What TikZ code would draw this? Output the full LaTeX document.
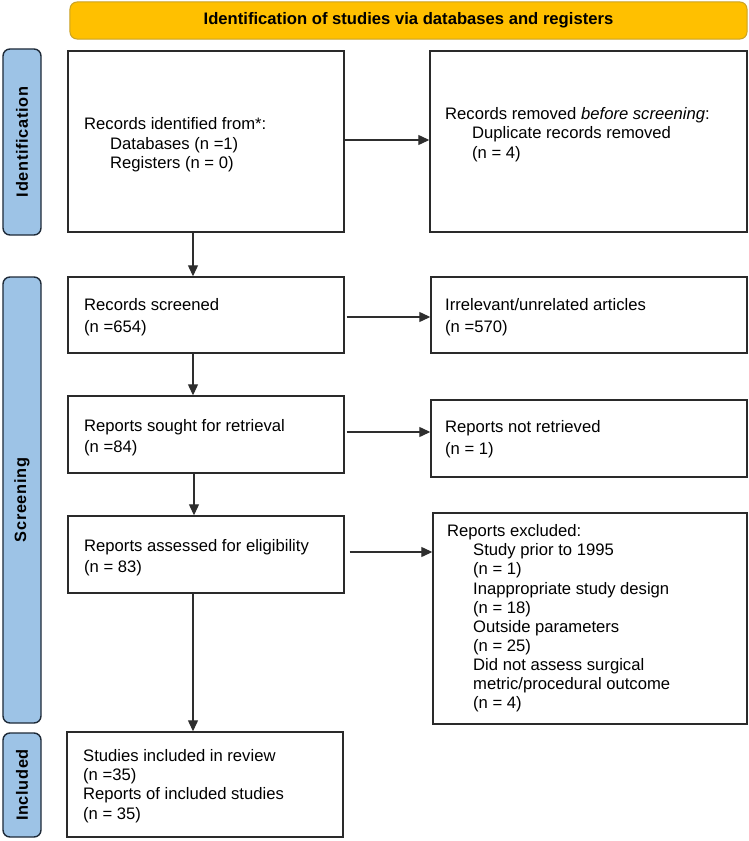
\documentclass[tikz,border=0pt]{standalone}
\usepackage{fontspec}
\setmainfont{Liberation Sans}
\newfontfamily\sidefont[LetterSpace=4]{Liberation Sans}
\usetikzlibrary{arrows.meta}
\definecolor{bannerfill}{HTML}{FFC000}
\definecolor{bannerdraw}{HTML}{C9A227}
\definecolor{sidefill}{HTML}{9DC3E6}
\definecolor{sidedraw}{HTML}{1E2A38}
\definecolor{boxdraw}{HTML}{2A2A2A}
\definecolor{arrowcol}{HTML}{2E2E2E}
\begin{document}
\begin{tikzpicture}[x=1bp,y=-1bp,
  box/.style={draw=boxdraw, line width=1.4bp, inner sep=0pt, fill=white},
  txt/.style={anchor=west, align=left, inner sep=0pt, font=\fontsize{16.7}{19.4}\selectfont},
  txttwo/.style={anchor=west, align=left, inner sep=0pt, font=\fontsize{16.7}{21.5}\selectfont},
  sidebar/.style={draw=sidedraw, line width=1.4bp, fill=sidefill, rounded corners=7bp, inner sep=0pt, minimum width=38bp},
  sidelabel/.style={rotate=90, inner sep=0pt, font=\sidefont\bfseries\fontsize{16.4}{18}\selectfont},
  banner/.style={draw=bannerdraw, line width=1bp, fill=bannerfill, rounded corners=7bp, inner sep=0pt},
  arr/.style={draw=arrowcol, line width=1.2bp, -{Triangle[length=11bp,width=10bp]}}
]
\useasboundingbox (0,0) rectangle (749,841);

% banner
\node[banner, minimum width=677bp, minimum height=37bp] (banner) at (408.5,20.5) {};
\node[inner sep=0pt, font=\bfseries\fontsize{16.7}{19}\selectfont] (bannertxt) at (banner.center) {Identification of studies via databases and registers};

% side bars
\node[sidebar, minimum height=186bp] (sideid) at (22,142) {};
\node[sidelabel] (sideidtxt) at (sideid.center) {Identification};
\node[sidebar, minimum height=446bp] (sidescr) at (22,500) {};
\node[sidelabel] (sidescrtxt) at (sidescr.center) {Screening};
\node[sidebar, minimum height=104bp] (sideinc) at (22,785) {};
\node[sidelabel] (sideinctxt) at (sideinc.center) {Included};

% boxes
\node[box, minimum width=276bp, minimum height=181bp] (b1) at (206,141.5) {};
\node[box, minimum width=317bp, minimum height=181bp] (b2) at (588.5,141.5) {};
\node[box, minimum width=276bp, minimum height=76bp] (scr) at (206,315) {};
\node[box, minimum width=316bp, minimum height=76bp] (irr) at (589,315) {};
\node[box, minimum width=276bp, minimum height=77bp] (sou) at (206,434.5) {};
\node[box, minimum width=316bp, minimum height=77bp] (nrt) at (589,438.5) {};
\node[box, minimum width=276bp, minimum height=77bp] (ass) at (206,554.5) {};
\node[box, minimum width=314bp, minimum height=211bp] (exc) at (590,618.5) {};
\node[box, minimum width=276bp, minimum height=105bp] (inc) at (205,784.5) {};

% texts
\node[txt] (b1t) at (84,145) {Records identified from*:\\
\hspace*{26bp}Databases (n =1)\\
\hspace*{26bp}Registers (n = 0)};
\node[txt] (b2t) at (445,134.5) {Records removed \textit{before screening}:\\
\hspace*{27bp}Duplicate records removed\\
\hspace*{27bp}(n = 4)};
\node[txttwo] (scrt) at (84,317) {Records screened\\(n =654)};
\node[txttwo] (irrt) at (445,317) {Irrelevant/unrelated articles\\(n =570)};
\node[txttwo] (sout) at (84,437.5) {Reports sought for retrieval\\(n =84)};
\node[txttwo] (nrtt) at (445,439) {Reports not retrieved\\(n = 1)};
\node[txttwo] (asst) at (84,557.5) {Reports assessed for eligibility\\(n = 83)};
\node[txt, font=\fontsize{16.7}{19.2}\selectfont] (exct) at (447,618.5) {Reports excluded:\\
\hspace*{26bp}Study prior to 1995\\
\hspace*{26bp}(n = 1)\\
\hspace*{26bp}Inappropriate study design\\
\hspace*{26bp}(n = 18)\\
\hspace*{26bp}Outside parameters\\
\hspace*{26bp}(n = 25)\\
\hspace*{26bp}Did not assess surgical\\
\hspace*{26bp}metric/procedural outcome\\
\hspace*{26bp}(n = 4)};
\node[txt] (inct) at (83,786) {Studies included in review\\(n =35)\\Reports of included studies\\(n = 35)};

% connectors
\draw[arr] ([yshift=1.5bp]b1.east) -- ([yshift=1.5bp]b1.east -| b2.west);
\draw[arr] ([xshift=-13bp]b1.south) -- ([xshift=-13bp]b1.south |- scr.north);
\draw[arr] ([xshift=2bp,yshift=-2bp]scr.east) -- ([yshift=-2bp]scr.east -| irr.west);
\draw[arr] ([xshift=-13bp]scr.south) -- ([xshift=-13bp]scr.south |- sou.north);
\draw[arr] ([xshift=2bp,yshift=2.5bp]sou.east) -- ([yshift=2.5bp]sou.east -| nrt.west);
\draw[arr] ([xshift=-12bp]sou.south) -- ([xshift=-12bp]sou.south |- ass.north);
\draw[arr] ([xshift=5bp,yshift=2.5bp]ass.east) -- ([yshift=2.5bp]ass.east -| exc.west);
\draw[arr] ([xshift=-13bp]ass.south) -- ([xshift=-13bp]ass.south |- inc.north);
\end{tikzpicture}
\end{document}
